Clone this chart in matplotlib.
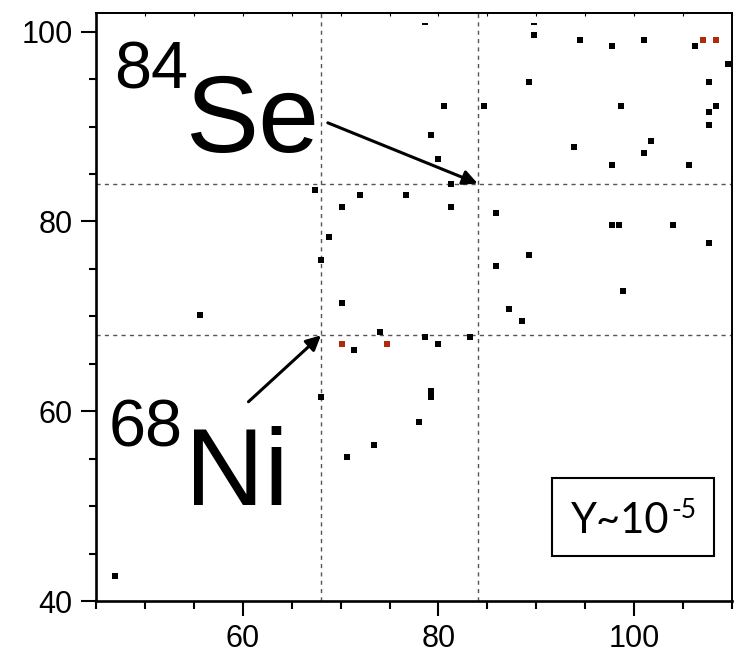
import matplotlib.pyplot as plt
from matplotlib.patches import Rectangle

# black squares
bx = [67.4, 72.0, 70.1, 68.8, 68.0, 70.1, 55.6,
      89.8, 94.5, 97.7, 101.0, 106.2, 109.6, 89.2, 107.6,
      80.6, 84.6, 98.6, 108.3, 107.6, 107.6, 79.2, 93.8,
      101.7, 101.0, 80.0, 97.7, 105.6, 81.3, 76.7, 81.3,
      85.9, 97.7, 98.4, 103.9, 107.6, 89.2, 85.9, 98.8,
      87.2, 88.5, 74.0, 71.4, 68.0, 70.7, 47.0, 73.4,
      78.6, 80.0, 83.2, 79.2, 79.2, 78.0]
by = [83.3, 82.8, 81.5, 78.4, 75.9, 71.4, 70.1,
      99.7, 99.1, 98.5, 99.1, 98.5, 96.6, 94.7, 94.7,
      92.2, 92.2, 92.2, 92.2, 91.5, 90.2, 89.1, 87.9,
      88.5, 87.2, 86.6, 85.9, 85.9, 84.0, 82.8, 81.5,
      80.9, 79.6, 79.6, 79.6, 77.7, 76.5, 75.3, 72.7,
      70.8, 69.5, 68.4, 66.5, 61.5, 55.2, 42.6, 56.4,
      67.8, 67.1, 67.8, 61.5, 62.1, 58.9]

# red squares
rx = [70.1, 74.7, 107.0, 108.3]
ry = [67.1, 67.1, 99.1, 99.1]

# thin dashes near the top
tx = [78.6, 89.8]
ty = [100.8, 100.8]

ni_pos = (68, 68)
se_pos = (84, 84)
se_tail = (68.7, 90.4)
ni_tail = (60.6, 61.0)

fig = plt.figure(figsize=(7.4, 6.63), dpi=100)
ax = fig.add_axes([0.1293, 0.0935, 0.8603, 0.8873])

ax.axvline(ni_pos[0], color='#555555', lw=1, ls=(0, (3, 3)))
ax.axvline(se_pos[0], color='#555555', lw=1, ls=(0, (3, 3)))
ax.axhline(ni_pos[1], color='#555555', lw=1, ls=(0, (3, 3)))
ax.axhline(se_pos[1], color='#555555', lw=1, ls=(0, (3, 3)))

ax.plot(bx, by, 's', color='black', ms=4.3, mew=0)
ax.plot(rx, ry, 's', color='#b02a0c', ms=3.7, mew=0)
ax.plot(tx, ty, '_', color='black', ms=4.3, mew=1.4)

ax.set_xlim(45, 110)
ax.set_ylim(40, 102)
ax.set_xticks([60, 80, 100])
ax.set_yticks([40, 60, 80, 100])
ax.set_xticks(range(45, 111, 5), minor=True)
ax.set_yticks(range(40, 101, 5), minor=True)
ax.tick_params(which='major', length=10.5, width=1.5, labelsize=22, pad=6)
ax.tick_params(which='minor', length=5.4, width=1.5)
for lab in ax.get_xticklabels() + ax.get_yticklabels():
    lab.set_family('Liberation Sans')
for s in ['left', 'bottom']:
    ax.spines[s].set_linewidth(1.9)
for s in ['top', 'right']:
    ax.spines[s].set_linewidth(1.4)

top = ax.secondary_xaxis('top')
top.set_xticks(range(45, 111, 5))
top.tick_params(direction='in', length=2, width=0.8, labeltop=False)
top.spines['top'].set_linewidth(1.4)

ax.text(0.029, 0.872, '84', transform=ax.transAxes, fontsize=48,
        family='Liberation Sans', va='baseline')
ax.text(0.140, 0.763, 'Se', transform=ax.transAxes, fontsize=79,
        family='Liberation Sans', va='baseline')
ax.text(0.021, 0.262, '68', transform=ax.transAxes, fontsize=48,
        family='Liberation Sans', va='baseline')
ax.text(0.140, 0.163, 'Ni', transform=ax.transAxes, fontsize=79,
        family='Liberation Sans', va='baseline')

arrow = dict(arrowstyle='-|>', color='black', lw=2.2, mutation_scale=22, shrinkA=0, shrinkB=0)
ax.annotate('', xy=se_pos, xytext=se_tail, arrowprops=arrow)
ax.annotate('', xy=ni_pos, xytext=ni_tail, arrowprops=arrow)

ax.add_patch(Rectangle((0.7163, 0.077), 0.255, 0.1326, transform=ax.transAxes,
                       fill=False, lw=1.5, ec='black'))
ax.text(0.747, 0.115, 'Y~10', transform=ax.transAxes, fontsize=30,
        family='Lato', va='baseline')
ax.text(0.905, 0.1416, '-5', transform=ax.transAxes, fontsize=19,
        family='Lato', va='baseline')

fig.savefig('out.png', dpi=100)
